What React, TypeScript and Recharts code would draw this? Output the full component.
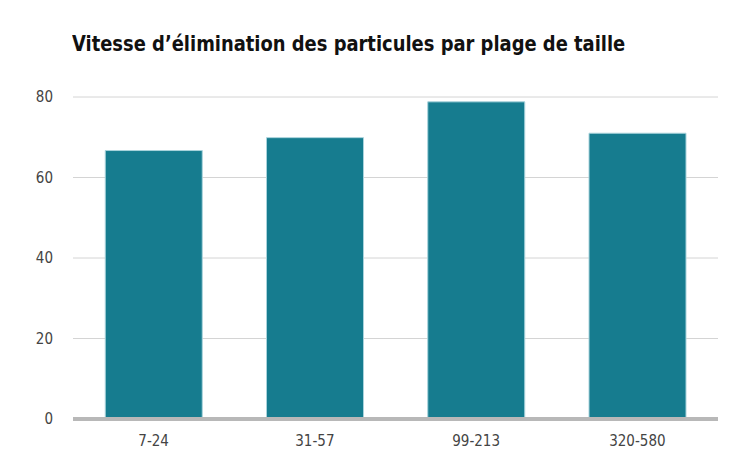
import React from "react";
import { BarChart, Bar, XAxis, YAxis, CartesianGrid } from "recharts";

const sizeRanges = ["7-24", "31-57", "99-213", "320-580"];
const removalRates = [66.7, 69.9, 78.8, 71.0];
const yTicks = [0, 20, 40, 60, 80];

const FONT = "'Liberation Sans Narrow', 'DejaVu Sans Condensed', 'Roboto', sans-serif";

const data = sizeRanges.map((range, i) => ({ range, rate: removalRates[i] }));

export default function App() {
  return (
    <div
      style={{
        position: "absolute",
        left: 0,
        top: 0,
        width: 750,
        height: 474,
        background: "#fff",
        fontFamily: FONT,
      }}
    >
      <div
        style={{
          position: "absolute",
          left: 72,
          top: 31,
          fontSize: 22,
          fontWeight: 700,
          color: "#111",
          whiteSpace: "nowrap",
          transform: "scaleX(0.905)",
          transformOrigin: "left top",
        }}
      >
        Vitesse d’élimination des particules par plage de taille
      </div>
      <BarChart
        width={750}
        height={474}
        data={data}
        margin={{ top: 97, right: 32, bottom: 25, left: 33 }}
        barCategoryGap="20%"
      >
        <CartesianGrid vertical={false} stroke="#d4d4d4" strokeWidth={1} />
        <XAxis
          dataKey="range"
          tickLine={false}
          axisLine={{ stroke: "#b8b8b8", strokeWidth: 4 }}
          tick={{ fill: "#444", fontSize: 15, fontFamily: FONT }}
          tickMargin={10}
          height={30}
        />
        <YAxis
          domain={[0, 80]}
          ticks={yTicks}
          tickLine={false}
          axisLine={false}
          tick={{ fill: "#444", fontSize: 15, fontFamily: FONT }}
          tickMargin={14}
          width={40}
        />
        <Bar
          dataKey="rate"
          fill="#167c8f"
          stroke="#a9d3dc"
          strokeWidth={1}
          isAnimationActive={false}
        />
      </BarChart>
    </div>
  );
}
